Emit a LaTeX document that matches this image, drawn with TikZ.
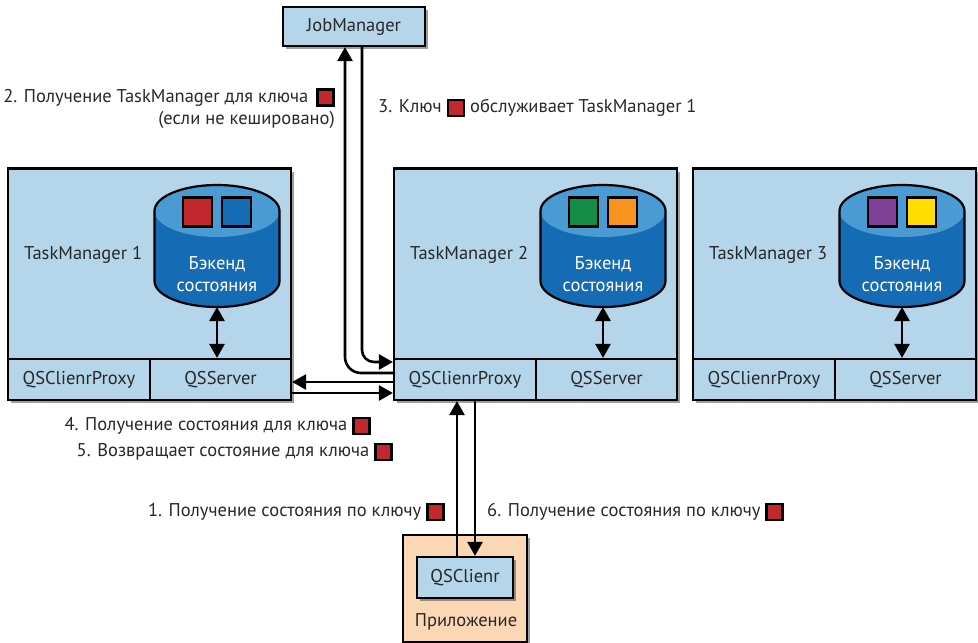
\documentclass[tikz,border=0pt]{standalone}
\usepackage{fontspec}
\setmainfont{PT Sans}
\usetikzlibrary{shadows,arrows.meta,calc}
\definecolor{boxblue}{RGB}{180,213,234}
\definecolor{cyltop}{RGB}{74,155,211}
\definecolor{cylbody}{RGB}{22,108,180}
\definecolor{keyred}{RGB}{193,39,45}
\definecolor{keyblue}{RGB}{22,108,180}
\definecolor{keygreen}{RGB}{20,140,70}
\definecolor{keyorange}{RGB}{247,147,30}
\definecolor{keypurple}{RGB}{128,64,152}
\definecolor{keyyellow}{RGB}{255,222,0}
\definecolor{appfill}{RGB}{251,215,181}
\definecolor{txt}{RGB}{40,40,40}
\newcommand\keysq{{\setlength{\fboxsep}{0pt}\setlength{\fboxrule}{2.5pt}\raisebox{-2pt}{\fcolorbox{black}{keyred}{\rule{0pt}{13.5pt}\hspace{13.5pt}}}}}
\begin{document}
\begin{tikzpicture}[x=1pt,y=-1pt,
  font=\fontsize{18.5}{22.5}\selectfont, text=txt,
  shad/.style={drop shadow={shadow xshift=3pt,shadow yshift=-3pt,fill=black!70,opacity=0.55}},
  box/.style={draw, line width=2.2pt, fill=boxblue, inner sep=0pt, shad},
  cell/.style={draw, line width=2.2pt, fill=boxblue, inner sep=0pt, minimum height=41pt},
  sq/.style={draw, line width=2.2pt, minimum size=29pt, inner sep=0pt},
  lbl/.style={inner sep=0pt, align=right},
  arr/.style={line width=2.6pt, -{Triangle[length=14pt,width=15pt]}},
  dbl/.style={line width=2.6pt, {Triangle[length=14pt,width=15pt]}-{Triangle[length=14pt,width=15pt]}}
]
\useasboundingbox (0,0) rectangle (978,643);

% JobManager
\node[box, minimum width=142pt, minimum height=39pt] (jm) at (354,26.5) {JobManager};

% TaskManagers
\foreach \i/\x/\ca/\cb in {1/8/keyred/keyblue, 2/394/keygreen/keyorange, 3/693/keypurple/keyyellow}{
  \pgfmathsetmacro\cx{\x+209}
  \node[box, minimum width=283pt, minimum height=231pt] (tm\i) at (\x+141.5,284) {};
  \node[cell, minimum width=142pt] (prx\i) at (\x+71,379.5) {QSClienrProxy};
  \node[cell, minimum width=141pt] (srv\i) at (\x+212.5,379.5) {QSServer};
  \node[anchor=west, inner sep=0pt] (tmt\i) at (\x+16,255) {TaskManager \i};
  \fill[cylbody] (\cx-62.5,211) -- (\cx-62.5,281) arc[start angle=180,end angle=360,x radius=62.5pt,y radius=26pt] -- (\cx+62.5,211) -- cycle;
  \fill[cyltop] (\cx,211) ellipse[x radius=62.5pt,y radius=26pt];
  \draw[line width=2.2pt] (\cx-62.5,211) -- (\cx-62.5,281) arc[start angle=180,end angle=360,x radius=62.5pt,y radius=26pt] -- (\cx+62.5,211) arc[start angle=0,end angle=180,x radius=62.5pt,y radius=26pt] -- cycle;
  \node[sq, fill=\ca] (sa\i) at (\cx-19.5,212) {};
  \node[sq, fill=\cb] (sb\i) at (\cx+19.5,212) {};
  \node[text=white, align=center, inner sep=0pt] (be\i) at (\cx,274) {Бэкенд\\состояния};
  \coordinate (cb\i) at (\cx,307);
  \draw[dbl] (cb\i) -- (cb\i |- srv\i.north);
}

% Application
\node[box, fill=appfill, minimum width=124pt, minimum height=107pt] (app) at (465,588.5) {};
\node[box, minimum width=96pt, minimum height=41pt] (qsc) at (465,577.5) {QSClienr};
\node[inner sep=0pt] (appt) at (466,622) {Приложение};

% connectors JobManager
\draw[arr, rounded corners=16pt] ($(prx2.west)+(0,-6.5)$) -| ($(jm.south)+(-9,0)$);
\draw[arr, rounded corners=12pt] ($(jm.south)+(8,0)$) |- ($(prx2.west)+(0,-17.5)$);

% TM1 <-> TM2
\draw[arr] ($(prx2.west)+(0,2.5)$) -- ($(srv1.east)+(0,2.5)$);
\draw[arr] ($(srv1.east)+(0,13.5)$) -- ($(prx2.west)+(0,13.5)$);

% client <-> TM2
\coordinate (b1) at ($(qsc.north)+(-8,0)$);
\coordinate (b2) at ($(qsc.north)+(10,0)$);
\draw[arr] (b1) -- (b1 |- prx2.south);
\draw[arr] (b2 |- prx2.south) -- (b2);

% labels
\node[lbl, anchor=east] (l2) at (335,108.5) {2. Получение TaskManager для ключа\hspace{3pt} \keysq\\(если не кешировано)};
\node[lbl, anchor=west] (l3) at (378,108) {3. Ключ \keysq{} обслуживает TaskManager 1};
\node[lbl, anchor=east] (l4) at (371,426) {4. Получение состояния для ключа \keysq};
\node[lbl, anchor=east] (l5) at (393,452) {5. Возвращает состояние для ключа \keysq};
\node[lbl, anchor=east] (l1) at (445,512) {1. Получение состояния по ключу \keysq};
\node[lbl, anchor=west] (l6) at (487,512) {6. Получение состояния по ключу \keysq};
\end{tikzpicture}
\end{document}
